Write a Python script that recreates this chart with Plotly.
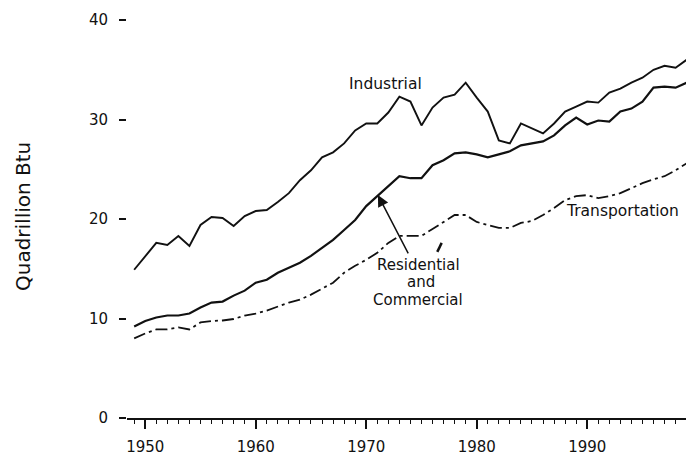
import plotly.graph_objects as go

# Energy consumption by end-use sector, quadrillion Btu
years = list(range(1949, 2000))

industrial = [14.9, 16.3, 17.6, 17.4, 18.3, 17.3, 19.4, 20.2, 20.1, 19.3,
              20.3, 20.8, 20.9, 21.7, 22.6, 23.9, 24.9, 26.2, 26.7, 27.6,
              28.9, 29.6, 29.6, 30.7, 32.3, 31.8, 29.4, 31.2, 32.2, 32.5,
              33.7, 32.2, 30.8, 27.9, 27.6, 29.6, 29.1, 28.6, 29.6, 30.8,
              31.3, 31.8, 31.7, 32.7, 33.1, 33.7, 34.2, 35.0, 35.4, 35.2,
              36.0]

res_comm = [9.2, 9.75, 10.1, 10.3, 10.3, 10.5, 11.1, 11.6, 11.7, 12.3,
            12.8, 13.6, 13.9, 14.6, 15.1, 15.6, 16.3, 17.1, 17.9, 18.9,
            19.9, 21.3, 22.3, 23.3, 24.3, 24.1, 24.1, 25.4, 25.9, 26.6,
            26.7, 26.5, 26.2, 26.5, 26.8, 27.4, 27.6, 27.8, 28.4, 29.4,
            30.2, 29.5, 29.9, 29.8, 30.8, 31.1, 31.8, 33.2, 33.3, 33.2,
            33.7]

transportation = [8.0, 8.5, 8.9, 8.9, 9.1, 8.9, 9.6, 9.75, 9.8, 9.95,
                  10.3, 10.5, 10.8, 11.2, 11.6, 11.9, 12.4, 13.0, 13.6, 14.6,
                  15.3, 15.9, 16.6, 17.6, 18.3, 18.3, 18.3, 19.0, 19.7, 20.4,
                  20.4, 19.7, 19.4, 19.1, 19.1, 19.6, 19.8, 20.4, 21.1, 21.9,
                  22.3, 22.4, 22.1, 22.3, 22.6, 23.1, 23.6, 24.0, 24.3, 24.9,
                  25.6]

x_ticks = [1950, 1960, 1970, 1980, 1990]
y_ticks = [0, 10, 20, 30, 40]

FONT = "DejaVu Sans, Liberation Sans, sans-serif"
INK = "#111111"

fig = go.Figure()

fig.add_trace(go.Scatter(x=years, y=industrial, mode="lines",
                         line=dict(color=INK, width=1.9), name="Industrial"))
fig.add_trace(go.Scatter(x=years, y=res_comm, mode="lines",
                         line=dict(color=INK, width=2.2),
                         name="Residential and Commercial"))
fig.add_trace(go.Scatter(x=years, y=transportation, mode="lines",
                         line=dict(color=INK, width=1.8,
                                   dash="12px,4px,3px,4px"),
                         name="Transportation"))

fig.update_layout(
    width=686, height=457,
    margin=dict(l=127, r=0, t=20, b=39),
    paper_bgcolor="white", plot_bgcolor="white",
    showlegend=False,
    font=dict(family=FONT, color=INK),
)

fig.update_xaxes(
    range=[1948.35, 1998.94], automargin=False,
    tickvals=x_ticks, ticktext=[str(v) for v in x_ticks],
    showgrid=False, zeroline=False,
    showline=True, linecolor=INK, linewidth=1.6,
    ticks="outside", ticklen=9, tickwidth=1.5, tickcolor=INK,
    minor=dict(dtick=1, tick0=1950, ticks="outside", ticklen=4,
               tickwidth=1.3, tickcolor=INK, showgrid=False),
    tickfont=dict(size=15, family=FONT, color=INK),
    ticklabelstandoff=5,
)

fig.update_yaxes(
    range=[0, 40], automargin=False,
    tickvals=y_ticks, ticktext=[str(v) for v in y_ticks],
    showgrid=False, zeroline=False, showline=False,
    ticks="outside", ticklen=7, tickwidth=1.8, tickcolor=INK,
    tickfont=dict(size=15, family=FONT, color=INK),
    ticklabelstandoff=8,
)

# Axis title
fig.add_annotation(text="Quadrillion Btu", xref="paper", yref="paper",
                   x=-0.186, y=0.505, textangle=-90, showarrow=False,
                   xanchor="center", yanchor="middle",
                   font=dict(size=20, family=FONT, color=INK))

# Series labels
fig.add_annotation(text="Industrial", x=1971.7, y=33.6, showarrow=False,
                   font=dict(size=15.5, family=FONT, color=INK))
fig.add_annotation(text="Transportation", x=1993.2, y=20.8, showarrow=False,
                   font=dict(size=15.5, family=FONT, color=INK))
for line_text, xv, yv in [("Residential", 1974.7, 15.38),
                          ("and", 1974.95, 13.62),
                          ("Commercial", 1974.7, 11.86)]:
    fig.add_annotation(text=line_text, x=xv, y=yv, showarrow=False,
                       font=dict(size=15, family=FONT, color=INK))

# Pointer from the label to the residential/commercial curve
fig.add_annotation(x=1971.06, y=22.4, ax=1973.87, ay=16.4,
                   axref="x", ayref="y", text="", showarrow=True,
                   arrowhead=2, arrowsize=1.5, arrowwidth=1.5,
                   arrowcolor=INK)

# Short leader stroke under the transportation curve
fig.add_shape(type="line", x0=1976.83, y0=17.6, x1=1976.43, y1=16.7,
              line=dict(color=INK, width=2.5))

fig.write_html("out.html")
